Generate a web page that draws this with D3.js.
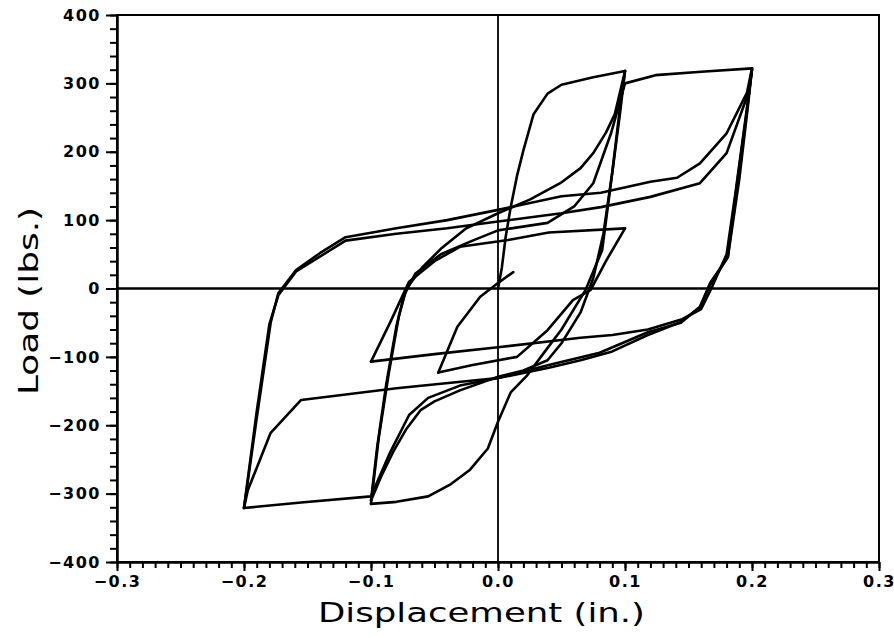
<!DOCTYPE html>
<html>
<head>
<meta charset="utf-8">
<script src="https://cdn.jsdelivr.net/npm/d3@7"></script>
<style>
  body { margin: 0; background: #fff; }
  .tick text { font-family: "DejaVu Sans", sans-serif; font-weight: bold; font-size: 16px; letter-spacing: 1.5px; fill: #000; }
  .axis path.domain { stroke: #000; stroke-width: 2; }
  .axis .tick line { stroke: #000; stroke-width: 2; }
  .title { font-family: "DejaVu Sans", sans-serif; font-size: 27px; fill: #000; }
  .loop { fill: none; stroke: #000; stroke-width: 2.6; stroke-linejoin: round; stroke-linecap: round; }
</style>
</head>
<body>
<div class="hysteresis"></div>
<script>
// displacement (in.), load (lbs.) pairs, in test order
const virgin = [[0,0],[0.003,30],[0.006,75],[0.01,119],[0.015,165],[0.02,202],[0.028,255],[0.039,285],[0.05,298],[0.075,309],[0.1,318]]
const unload1 = [[0.1,318],[0.097,280],[0.09,170],[0.082,56],[0.069,-2],[0.05,-60],[0.037,-92],[0.023,-127],[0.01,-152],[0,-195],[-0.008,-234],[-0.022,-265],[-0.037,-286],[-0.055,-304],[-0.08,-312],[-0.1,-315]]
const reload1 = [[-0.1,-315],[-0.094,-220],[-0.086,-124],[-0.078,-40],[-0.072,0],[-0.06,30],[-0.045,58],[-0.025,88],[0,110],[0.025,130],[0.049,154],[0.065,176],[0.075,198],[0.085,228],[0.092,255],[0.1,318]]
const unload2 = [[0.1,318],[0.096,255],[0.09,170],[0.083,80],[0.075,15],[0.065,-35],[0.05,-80],[0.039,-105],[0.02,-120],[0,-129],[-0.03,-149],[-0.05,-165],[-0.061,-178],[-0.072,-205],[-0.082,-237],[-0.092,-275],[-0.1,-310]]
const reload2 = [[-0.1,-310],[-0.095,-230],[-0.088,-140],[-0.08,-55],[-0.074,-10],[-0.065,22],[-0.045,50],[-0.02,70],[0,85],[0.039,96],[0.06,120],[0.075,154],[0.089,227],[0.1,300],[0.124,312],[0.16,317],[0.2,322]]
const unload3 = [[0.2,322],[0.197,270],[0.19,160],[0.181,46],[0.167,8],[0.159,-27],[0.144,-49],[0.118,-68],[0.09,-92],[0.065,-105],[0.04,-116],[0,-131],[-0.03,-142],[-0.055,-160],[-0.07,-185],[-0.085,-240],[-0.1,-304],[-0.155,-313],[-0.2,-321]]
const reload3 = [[-0.2,-321],[-0.19,-190],[-0.179,-50],[-0.173,-7],[-0.159,27],[-0.14,52],[-0.12,75],[-0.08,88],[-0.04,100],[0,115],[0.05,135],[0.081,140],[0.12,156],[0.141,162],[0.159,183],[0.18,227],[0.196,286],[0.2,322]]
const unload4 = [[0.2,322],[0.196,260],[0.188,150],[0.181,46],[0.167,5],[0.159,-27],[0.144,-50],[0.118,-64],[0.08,-94],[0.04,-112],[0,-131],[-0.08,-146],[-0.155,-163],[-0.179,-211],[-0.197,-295],[-0.2,-321]]
const reload4 = [[-0.2,-321],[-0.19,-180],[-0.18,-52],[-0.173,-10],[-0.159,25],[-0.12,70],[-0.08,80],[-0.04,88],[0,98],[0.05,110],[0.081,119],[0.12,134],[0.159,154],[0.18,198],[0.196,280],[0.2,320]]
const unload5 = [[0.2,320],[0.195,250],[0.187,140],[0.18,50],[0.168,0],[0.16,-30],[0.145,-45],[0.118,-60],[0.09,-68],[0.065,-72],[0,-86],[-0.05,-96],[-0.1,-107]]
const smallReload = [[-0.1,-107],[-0.085,-50],[-0.07,10],[-0.05,40],[-0.03,61],[0.008,71],[0.04,82],[0.1,88]]
const smallUnload = [[0.1,88],[0.085,40],[0.073,-2],[0.059,-17],[0.039,-61],[0.015,-100],[-0.02,-112],[-0.047,-123]]
const finalReload = [[-0.047,-123],[-0.032,-56],[-0.014,-12],[0,8],[0.012,24]]

const branches = [virgin, unload1, reload1, unload2, reload2, unload3, reload3, unload4, reload4, unload5, smallReload, smallUnload, finalReload]

// axis ticks
const xMajor = [-0.3, -0.2, -0.1, 0, 0.1, 0.2, 0.3]
const xMinor = d3.range(-30, 31).map(d => d / 100)
const yMajor = [-400, -300, -200, -100, 0, 100, 200, 300, 400]
const yMinor = d3.range(-400, 401, 20)

const width = 894
const height = 638
const margin = { top: 15, right: 15, bottom: 76, left: 117 }
const innerWidth = width - margin.left - margin.right
const innerHeight = height - margin.top - margin.bottom

const svg = d3.select('.hysteresis')
  .append('svg')
  .attr('width', width)
  .attr('height', height)

const g = svg.append('g')
  .attr('transform', `translate(${margin.left},${margin.top})`)

const x = d3.scaleLinear().domain([-0.3, 0.3]).range([0, innerWidth])
const y = d3.scaleLinear().domain([-400, 400]).range([innerHeight, 0])

// minor ticks first (no labels), then labelled majors on top
const xMinorAxis = g.append('g')
  .attr('class', 'axis')
  .attr('transform', `translate(0,${innerHeight})`)
  .call(d3.axisBottom(x).tickValues(xMinor).tickSize(6).tickSizeOuter(0))
xMinorAxis.selectAll('text').remove()

g.append('g')
  .attr('class', 'axis')
  .attr('transform', `translate(0,${innerHeight})`)
  .call(d3.axisBottom(x).tickValues(xMajor).tickSize(9).tickSizeOuter(0).tickPadding(5).tickFormat(d3.format('.1f')))

const yMinorAxis = g.append('g')
  .attr('class', 'axis')
  .call(d3.axisLeft(y).tickValues(yMinor).tickSize(7).tickSizeOuter(0))
yMinorAxis.selectAll('text').remove()

g.append('g')
  .attr('class', 'axis')
  .call(d3.axisLeft(y).tickValues(yMajor).tickSize(11).tickSizeOuter(0).tickPadding(5).tickFormat(d3.format('d')))

// frame
g.append('rect')
  .attr('width', innerWidth)
  .attr('height', innerHeight)
  .attr('fill', 'none')
  .attr('stroke', '#000')
  .attr('stroke-width', 2)

// zero lines
g.append('line')
  .attr('x1', 0).attr('x2', innerWidth)
  .attr('y1', y(0)).attr('y2', y(0))
  .attr('stroke', '#000').attr('stroke-width', 2.5)

g.append('line')
  .attr('x1', x(0)).attr('x2', x(0))
  .attr('y1', 0).attr('y2', innerHeight)
  .attr('stroke', '#000').attr('stroke-width', 1.8)

const line = d3.line()
  .x(d => x(d[0]))
  .y(d => y(d[1]))

g.selectAll('.loop')
  .data(branches)
  .enter()
  .append('path')
  .attr('class', 'loop')
  .attr('d', line)

// axis titles
svg.append('text')
  .attr('class', 'title')
  .attr('x', 318)
  .attr('y', 622)
  .attr('textLength', 327)
  .attr('lengthAdjust', 'spacingAndGlyphs')
  .text('Displacement  (in.)')

svg.append('text')
  .attr('class', 'title')
  .attr('transform', 'translate(38,395) rotate(-90)')
  .attr('textLength', 188)
  .attr('lengthAdjust', 'spacingAndGlyphs')
  .text('Load  (lbs.)')
</script>
</body>
</html>
